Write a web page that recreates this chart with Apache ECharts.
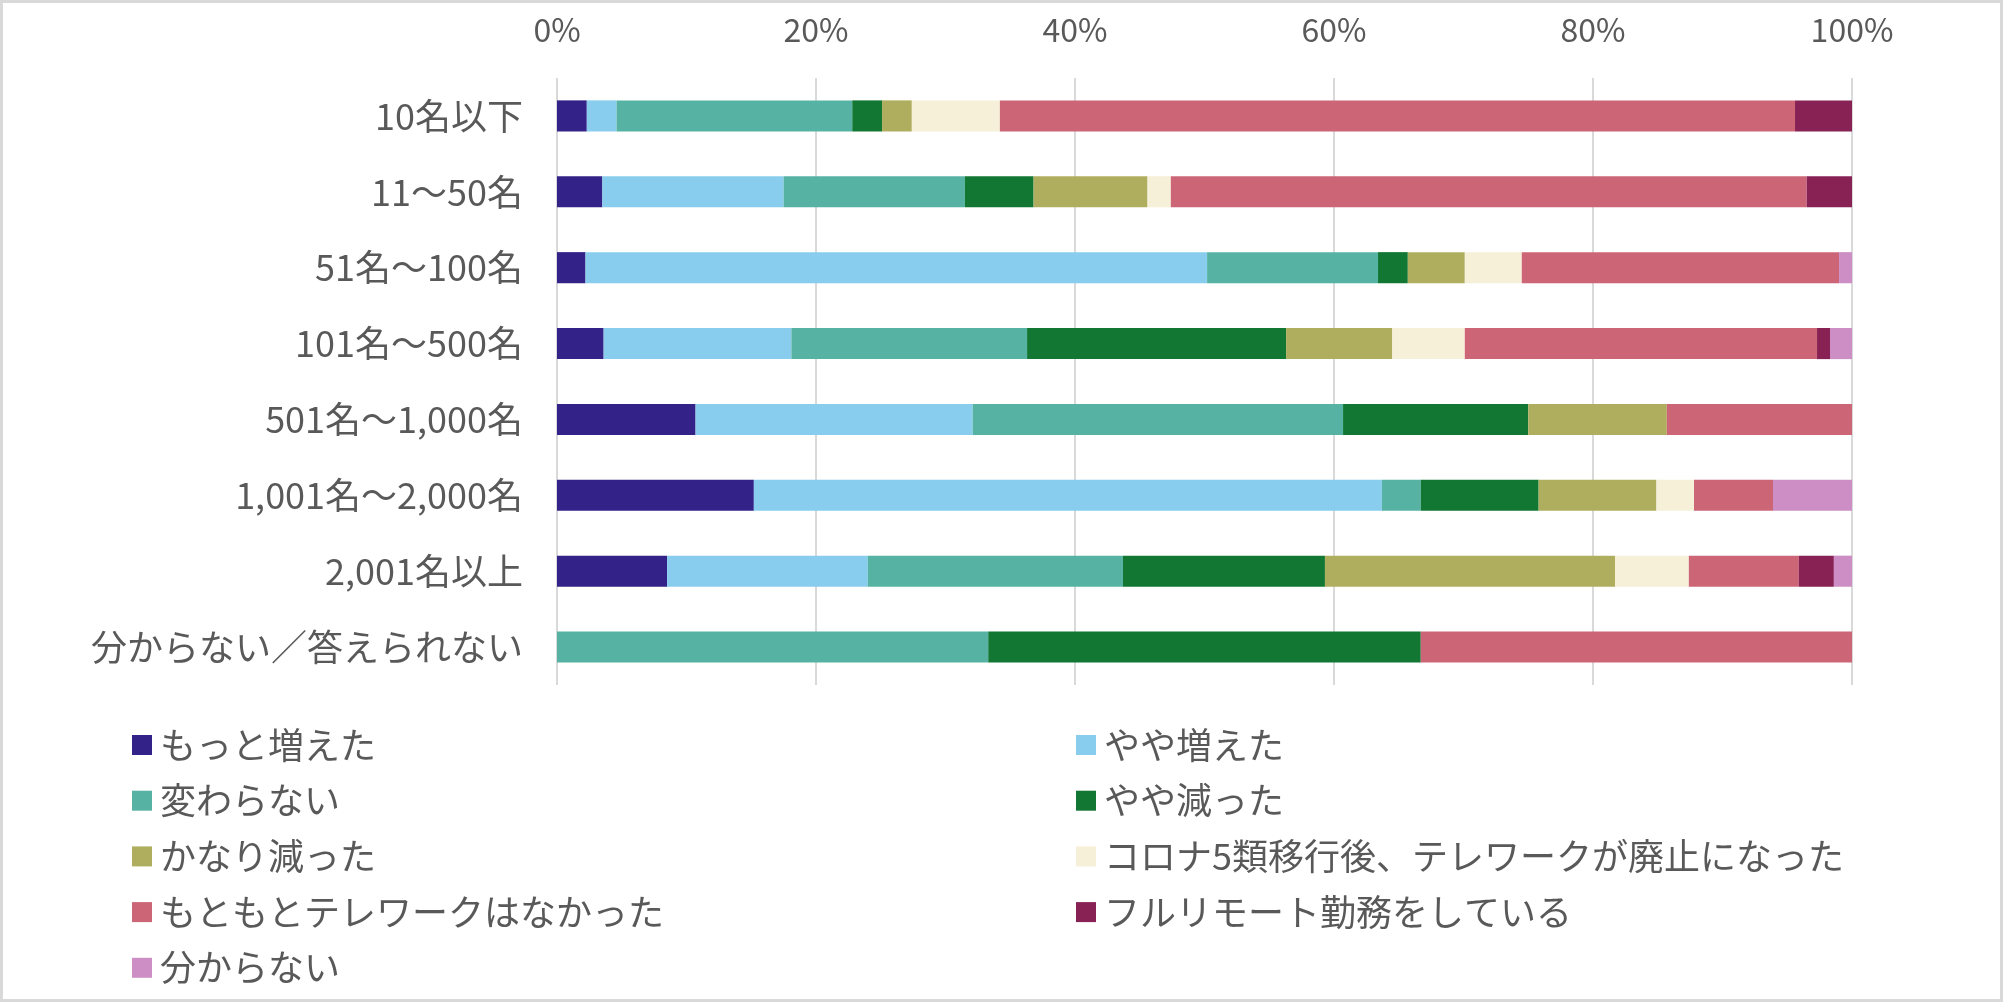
<!DOCTYPE html>
<html>
<head>
<meta charset="utf-8">
<script type="text/javascript" src="https://cdn.jsdelivr.net/npm/echarts/dist/echarts.min.js"></script>
<style>
    html, body { margin: 0; padding: 0; background: #fff; }
    #telework { width: 2003px; height: 1002px; }
</style>
</head>
<body>
<div id="telework"></div>
<script>
    // カテゴリ（企業規模）
    var categories = ['10名以下', '11～50名', '51名～100名', '101名～500名', '501名～1,000名', '1,001名～2,000名', '2,001名以上', '分からない／答えられない'];
    var tickLabels = ['0%', '20%', '40%', '60%', '80%', '100%'];

    // 系列名
    var seriesNames = ['もっと増えた', 'やや増えた', '変わらない', 'やや減った', 'かなり減った', 'コロナ5類移行後、テレワークが廃止になった', 'もともとテレワークはなかった', 'フルリモート勤務をしている', '分からない'];
    var colors = ['#332288', '#88CCEE', '#56B3A3', '#117733', '#AFAE5F', '#F6F0D8', '#CC6677', '#882255', '#CC8EC4'];

    // 値（%）
    var moreUp     = [2.3, 3.5, 2.2, 3.6, 10.7, 15.2, 8.5, 0];
    var slightUp   = [2.3, 14.0, 48.0, 14.5, 21.4, 48.5, 15.5, 0];
    var same       = [18.2, 14.0, 13.2, 18.2, 28.6, 3.0, 19.7, 33.3];
    var slightDown = [2.3, 5.3, 2.3, 20.0, 14.3, 9.1, 15.6, 33.4];
    var muchDown   = [2.3, 8.8, 4.4, 8.2, 10.7, 9.1, 22.4, 0];
    var abolished  = [6.8, 1.8, 4.4, 5.6, 0, 2.9, 5.7, 0];
    var never      = [61.4, 49.1, 24.5, 27.2, 14.3, 6.1, 8.5, 33.3];
    var fullRemote = [4.4, 3.5, 0, 1.0, 0, 0, 2.7, 0];
    var unknown    = [0, 0, 1.0, 1.7, 0, 6.1, 1.4, 0];

    var values = [moreUp, slightUp, same, slightDown, muchDown, abolished, never, fullRemote, unknown];

    var font = '"Noto Sans CJK JP", "Noto Sans", sans-serif';
    var textColor = '#595959';

    var series = [];
    for (var i = 0; i < seriesNames.length; i++) {
        series.push({
            name: seriesNames[i],
            type: 'bar',
            stack: 'total',
            barWidth: '41%',
            itemStyle: { color: colors[i] },
            emphasis: { disabled: true },
            data: values[i]
        });
    }

    function legendBox(left, names) {
        return {
            orient: 'vertical',
            left: left,
            top: 720,
            icon: 'rect',
            itemWidth: 20,
            itemHeight: 20,
            itemGap: 15.7,
            selectedMode: false,
            textStyle: {
                fontFamily: font,
                fontSize: 36,
                lineHeight: 40,
                color: textColor,
                padding: [0, 0, 0, 3]
            },
            data: names
        };
    }

    var myChart = echarts.init(document.getElementById('telework'));
    var option = {
        animation: false,
        backgroundColor: '#fff',
        graphic: [{
            type: 'rect',
            shape: { x: 1.5, y: 1.5, width: 2000, height: 999 },
            style: { fill: 'none', stroke: '#d9d9d9', lineWidth: 3 },
            silent: true
        }],
        legend: [
            legendBox(127, [seriesNames[0], seriesNames[2], seriesNames[4], seriesNames[6], seriesNames[8]]),
            legendBox(1071, [seriesNames[1], seriesNames[3], seriesNames[5], seriesNames[7]])
        ],
        grid: {
            left: 557,
            right: 151,
            top: 78,
            bottom: 317,
            containLabel: false
        },
        xAxis: {
            type: 'value',
            position: 'top',
            min: 0,
            max: 100,
            interval: 20,
            axisLine: { show: false },
            axisTick: { show: false },
            axisLabel: {
                margin: 32,
                fontFamily: font,
                fontSize: 32,
                color: textColor,
                formatter: function (v) { return tickLabels[Math.round(v / 20)]; }
            },
            splitLine: { lineStyle: { color: '#d9d9d9', width: 2 } }
        },
        yAxis: {
            type: 'category',
            inverse: true,
            data: categories,
            axisLine: { show: false },
            axisTick: { show: false },
            axisLabel: {
                margin: 34,
                fontFamily: font,
                fontSize: 36,
                color: textColor
            }
        },
        series: series
    };
    myChart.setOption(option);
</script>
</body>
</html>
